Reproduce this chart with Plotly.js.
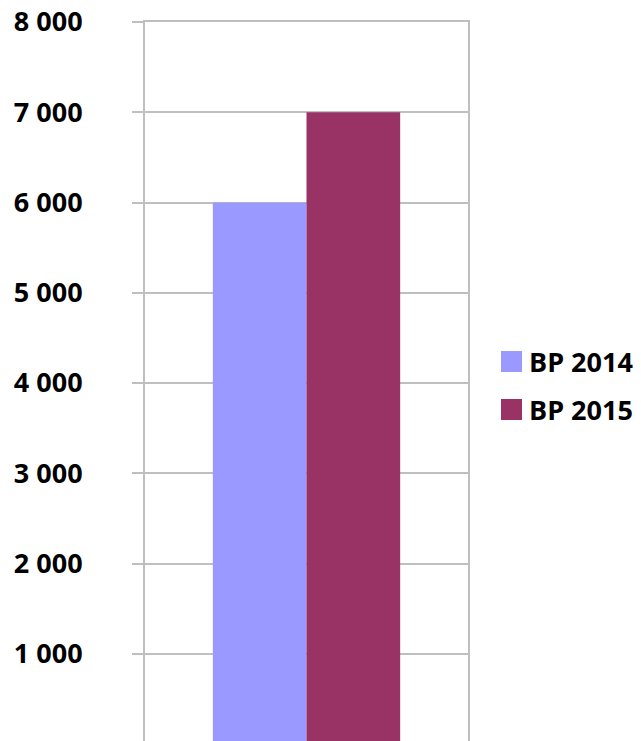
<!DOCTYPE html>
<html>
<head>
<meta charset="utf-8">
<script src="https://cdn.plot.ly/plotly-3.0.1.min.js"></script>
<style>
html,body{margin:0;padding:0;overflow:hidden;background:#fff;}
#chart{width:641px;height:760px;}
</style>
</head>
<body>
<div id="chart"></div>
<script>
var categories = [''];
var seriesNames = ['BP 2014', 'BP 2015'];
var bp2014 = [6000];
var bp2015 = [7000];
var yTickValues = [1000, 2000, 3000, 4000, 5000, 6000, 7000, 8000];

var colors = ['#9999FF', '#993366'];
var W = 641, H = 760, ml = 145, mr = 173, mt = 22, mb = 16;
var pw = W - ml - mr, ph = H - mt - mb;
function px2x(p){ return (p - ml) / pw; }
function py2y(p){ return (H - mb - p) / ph; }

var traces = [
  {type:'bar', name: seriesNames[0], x: categories, y: bp2014, marker:{color: colors[0]}, showlegend:false, hoverinfo:'none'},
  {type:'bar', name: seriesNames[1], x: categories, y: bp2015, marker:{color: colors[1]}, showlegend:false, hoverinfo:'none'}
];

var shapes = [], annotations = [];
var legendY = [361.5, 409.5];
for (var i = 0; i < seriesNames.length; i++) {
  shapes.push({type:'rect', xref:'paper', yref:'paper',
    x0: px2x(501), x1: px2x(522), y0: py2y(legendY[i] + 10.5), y1: py2y(legendY[i] - 10.5),
    fillcolor: colors[i], line:{width:0}});
  annotations.push({xref:'paper', yref:'paper', x: px2x(527), y: py2y(legendY[i]),
    xanchor:'left', yanchor:'middle', showarrow:false, text: seriesNames[i],
    font:{family:'Open Sans, sans-serif', size:27, color:'#000', weight:'bold'}});
}

var layout = {
  width: W, height: H,
  margin: {l: ml, r: mr, t: mt, b: mb, pad: 0},
  paper_bgcolor: '#fff', plot_bgcolor: '#fff',
  separators: '. ',
  barmode: 'group', bargap: 0.42, bargroupgap: 0,
  showlegend: false,
  xaxis: {showgrid:false, zeroline:false, showticklabels:false, ticks:'',
          showline:true, mirror:true, linecolor:'#BFBFBF', linewidth:2, fixedrange:true},
  yaxis: {range:[0, 8000], tickvals: yTickValues, tickformat:',',
          showgrid:true, gridcolor:'#BFBFBF', gridwidth:2, zeroline:false,
          showline:true, mirror:true, linecolor:'#BFBFBF', linewidth:2,
          ticks:'outside', ticklen:11, tickwidth:2, tickcolor:'#BFBFBF',
          ticklabelstandoff: 44,
          tickfont:{family:'Open Sans, sans-serif', size:27, color:'#000', weight:'bold'},
          fixedrange:true},
  shapes: shapes,
  annotations: annotations
};

Plotly.newPlot('chart', traces, layout, {displayModeBar:false, staticPlot:true});
</script>
</body>
</html>
